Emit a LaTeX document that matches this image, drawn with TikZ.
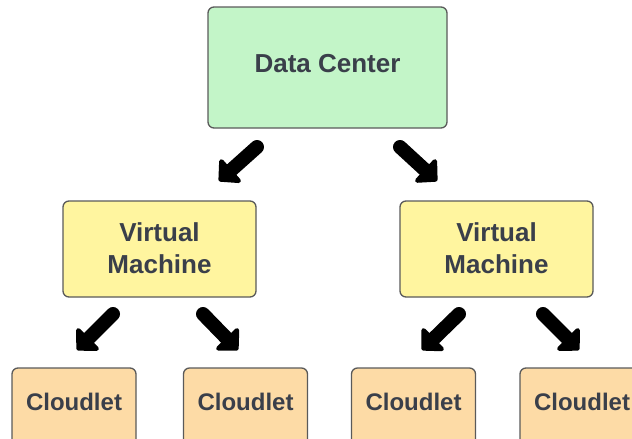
\documentclass[tikz,border=0pt]{standalone}
\usepackage{fontspec}
\setmainfont{Liberation Sans}
\usetikzlibrary{arrows.meta}
\definecolor{txt}{HTML}{3A3F4A}
\definecolor{bord}{HTML}{5A5A5A}
\definecolor{dcfill}{HTML}{C3F5C8}
\definecolor{vmfill}{HTML}{FFF59F}
\definecolor{clfill}{HTML}{FDDBA6}
\tikzset{
  box/.style={draw=bord, line width=1.3pt, rounded corners=6pt, inner sep=0pt},
  lbl/.style={text=txt, font=\fontsize{26}{32}\selectfont\bfseries, align=center, inner sep=0pt},
  cllbl/.style={text=txt, font=\fontsize{24}{30}\selectfont\bfseries, inner sep=0pt},
  dcbox/.style={box, fill=dcfill, minimum width=239pt, minimum height=121pt},
  vmbox/.style={box, fill=vmfill, minimum width=193pt, minimum height=96pt},
  clbox/.style={box, fill=clfill, minimum width=124pt, minimum height=78pt},
  blockarrow/.style={line width=14pt, line cap=round, black,
    -{Triangle[width=36pt,length=18pt,round]}}
}
\begin{document}
\begin{tikzpicture}[x=1pt,y=-1pt]
\useasboundingbox (0,0) rectangle (632,439);
\clip (0,0) rectangle (632,439);
\node[dcbox] (dc) at (327.5,67.5) {};
\node[vmbox] (vm1) at (159.5,249) {};
\node[vmbox] (vm2) at (496.5,249) {};
\node[clbox] (c1) at (74,407) {};
\node[clbox] (c2) at (245.5,407) {};
\node[clbox] (c3) at (413.5,407) {};
\node[clbox] (c4) at (582,407) {};
\node[lbl] (tdc) at (327.5,64) {Data Center};
\node[lbl] (tv1) at (159.5,248) {Virtual\\Machine};
\node[lbl] (tv2) at (496.5,248) {Virtual\\Machine};
\node[cllbl] (t1) at (74,402) {Cloudlet};
\node[cllbl] (t2) at (245.5,402) {Cloudlet};
\node[cllbl] (t3) at (413.5,402) {Cloudlet};
\node[cllbl] (t4) at (582,402) {Cloudlet};
\coordinate (a1s) at (257,147); \coordinate (a1e) at (219,181);
\coordinate (a2s) at (400,147); \coordinate (a2e) at (437,181);
\coordinate (a3s) at (113,314); \coordinate (a3e) at (77,350);
\coordinate (a4s) at (203,314); \coordinate (a4e) at (238,350);
\coordinate (a5s) at (459,314); \coordinate (a5e) at (422,350);
\coordinate (a6s) at (543,314); \coordinate (a6e) at (579,350);
\draw[blockarrow] (a1s) -- (a1e);
\draw[blockarrow] (a2s) -- (a2e);
\draw[blockarrow] (a3s) -- (a3e);
\draw[blockarrow] (a4s) -- (a4e);
\draw[blockarrow] (a5s) -- (a5e);
\draw[blockarrow] (a6s) -- (a6e);
\end{tikzpicture}
\end{document}
